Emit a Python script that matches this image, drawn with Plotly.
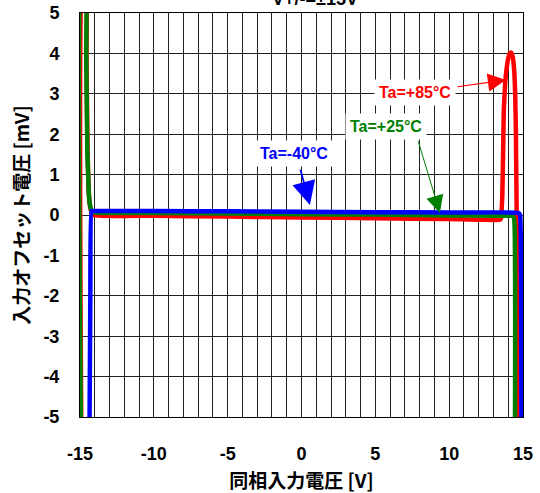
import plotly.graph_objects as go

# ---- data ----
x_85 = [-14.9, -14.8, -14.6, -14.56, -14.52, -14.48, -14.42, -14.35, -14.25, -14.1,
        -10, -5, 0, 5, 10, 13.4, 13.5, 13.6, 13.65, 13.7, 13.8, 13.9, 14.0, 14.1,
        14.2, 14.3, 14.4, 14.47, 14.52, 14.56, 14.6, 14.63]
y_85 = [-6, 6, 6, 4, 2.5, 1.5, 0.7, 0.3, 0.1, 0.0,
        -0.02, -0.04, -0.06, -0.08, -0.1, -0.12, -0.1, 0.5, 1.5, 2.6, 3.3, 3.65, 3.88, 4.0,
        4.02, 3.92, 3.6, 3.0, 2.0, 0.5, -1, -6]

x_25 = [-14.92, -14.88, -14.62, -14.58, -14.55, -14.5, -14.45, -14.4, -14.3, -14.2,
        -14.0, -10, -5, 0, 5, 10, 13, 14.3, 14.4, 14.45]
y_25 = [-6, 6, 6, 4, 3, 1.5, 1.0, 0.5, 0.2, 0.1,
        0.06, 0.05, 0.04, 0.02, 0.01, -0.01, -0.02, -0.03, -0.1, -6]

x_m40 = [-14.37, -14.3, -14.22, -14.1, -10, -5, 0, 5, 10, 14.7, 14.8, 14.86, 14.9]
y_m40 = [-6, -2, 0.1, 0.1, 0.1, 0.09, 0.08, 0.07, 0.06, 0.05, 0.0, -1, -6]

x_ticks = [-15, -10, -5, 0, 5, 10, 15]
y_ticks = [5, 4, 3, 2, 1, 0, -1, -2, -3, -4, -5]

labels = ["Ta=+85°C", "Ta=+25°C", "Ta=-40°C"]
colors = ["#ff0000", "#008000", "#0000ff"]

LAT = "Liberation Sans, Arial, sans-serif"
CJK = "Noto Sans CJK JP, Liberation Sans, sans-serif"

fig = go.Figure()
for xs, ys, c, name in [(x_85, y_85, colors[0], labels[0]),
                        (x_25, y_25, colors[1], labels[1]),
                        (x_m40, y_m40, colors[2], labels[2])]:
    fig.add_trace(go.Scatter(x=xs, y=ys, mode="lines", name=name,
                             line=dict(color=c, width=4.5, shape="spline", smoothing=0.4),
                             showlegend=False))

# text labels
text_pos = [(7.68, 3.02), (5.72, 2.20), (-0.48, 1.53)]
for (tx, ty), lab, c in zip(text_pos, labels, colors):
    fig.add_annotation(x=tx, y=ty, xref="x", yref="y", text="<b>%s</b>" % lab,
                       showarrow=False, bgcolor="white", borderpad=4,
                       font=dict(family=LAT, size=16, color=c))

# arrows (tail -> tip)
arrows = [((10.46, 3.17), (13.84, 3.34), 1.2, 3.0),
          ((7.88, 1.86), (9.37, 0.05), 1.0, 3.5),
          ((-0.10, 1.16), (0.57, 0.25), 1.8, 2.6)]
for ((ax_, ay_), (hx, hy), w, s), c in zip(arrows, colors):
    fig.add_annotation(x=hx, y=hy, ax=ax_, ay=ay_, xref="x", yref="y",
                       axref="x", ayref="y", text="", showarrow=True,
                       arrowhead=2, arrowsize=s, arrowwidth=w, arrowcolor=c,
                       standoff=0, startstandoff=0)

# title, only its lower edge shows at the very top of the page (as in the reference)
fig.add_annotation(x=0.53, y=1.004, xref="paper", yref="paper",
                   xanchor="center", yanchor="bottom", showarrow=False,
                   text="<b>V+/-=±15V</b>", font=dict(family=LAT, size=18, color="black"))

fig.update_xaxes(range=[-15, 15], tickvals=x_ticks, ticktext=[str(v) for v in x_ticks],
                 showgrid=True, gridcolor="#222", gridwidth=1, automargin=False,
                 zeroline=False, showline=True, linecolor="black", linewidth=1, mirror=True,
                 ticks="", ticklabelstandoff=20,
                 tickfont=dict(family=LAT, size=18, color="black", weight="bold"),
                 title=dict(text="<b>同相入力電圧 [V]</b>", standoff=12,
                            font=dict(family=CJK, size=19, color="black")))
fig.update_xaxes(minor=dict(dtick=1, showgrid=True, gridcolor="#222", gridwidth=1))
fig.update_yaxes(range=[-5, 5], tickvals=y_ticks, ticktext=[str(v) for v in y_ticks],
                 showgrid=True, gridcolor="#222", gridwidth=1, automargin=False,
                 zeroline=False, showline=True, linecolor="black", linewidth=1, mirror=True,
                 ticks="", ticklabelstandoff=16,
                 tickfont=dict(family=LAT, size=18, color="black", weight="bold"),
                 title=dict(text="<b>入力オフセット電圧 [mV]</b>", standoff=8,
                            font=dict(family=CJK, size=19, color="black")))

fig.update_layout(width=540, height=493, margin=dict(l=80, r=17, t=13, b=76),
                  plot_bgcolor="white", paper_bgcolor="white")

fig.write_html("out.html", config={"displayModeBar": False},
               post_script="document.body.style.margin='0';document.body.style.overflow='hidden';")
